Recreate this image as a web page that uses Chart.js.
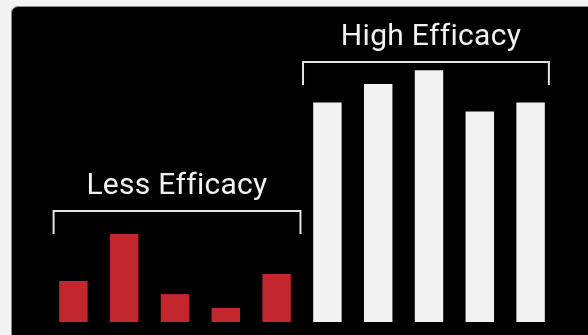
<!DOCTYPE html>
<html>
<head>
<meta charset="utf-8">
<script src="https://cdn.jsdelivr.net/npm/chart.js@4"></script>
<style>
    html, body { margin: 0; padding: 0; background: #f2f2f2; overflow: hidden; }
    #panel {
        position: absolute; left: 11px; top: 6px; width: 640px; height: 360px;
        background: #000; border: 1px solid #8c8c8c; border-radius: 7px; box-sizing: border-box;
    }
    #wrap { position: absolute; left: 0; top: 0; width: 588px; height: 335px; }
</style>
</head>
<body>
<div id="panel"></div>
<div id="wrap"><canvas id="efficacyChart"></canvas></div>
<script>
// Data
const categories = ['L1', 'L2', 'L3', 'L4', 'L5', 'H1', 'H2', 'H3', 'H4', 'H5'];
const values = [13.7, 29.3, 9.3, 4.7, 16, 73.2, 79.3, 83.9, 70.2, 73.2];
const groupNames = ['Less Efficacy', 'High Efficacy'];
const groupStart = [0, 5];
const groupEnd = [4, 9];
const groupLevel = [37, 86.7]; // bracket height in value units

const RED = '#c1272d';
const WHITE = '#f2f2f2';

// Brackets + group labels
const bracketPlugin = {
    id: 'brackets',
    afterDatasetsDraw(chart) {
        const { ctx, scales: { x, y } } = chart;
        const half = x.getPixelForValue(1) - x.getPixelForValue(0);
        const pads = [[-0.39, 0.47], [-0.48, 0.36]];
        ctx.save();
        for (let i = 0; i < groupNames.length; i++) {
            const left = x.getPixelForValue(groupStart[i]) + pads[i][0] * half;
            const right = x.getPixelForValue(groupEnd[i]) + pads[i][1] * half;
            const top = Math.round(y.getPixelForValue(groupLevel[i]));
            ctx.strokeStyle = '#e4e4e4';
            ctx.lineWidth = 2;
            ctx.beginPath();
            ctx.moveTo(left, top + 23);
            ctx.lineTo(left, top);
            ctx.lineTo(right, top);
            ctx.lineTo(right, top + 23);
            ctx.stroke();

            const cx = (x.getPixelForValue(groupStart[i]) + x.getPixelForValue(groupEnd[i])) / 2 + 2;
            ctx.fillStyle = WHITE;
            ctx.font = '30px Roboto';
            ctx.letterSpacing = '0.3px';
            ctx.textAlign = 'center';
            ctx.textBaseline = 'alphabetic';
            ctx.fillText(groupNames[i], cx, top - 17);
        }
        ctx.restore();
    }
};

const ctx = document.getElementById('efficacyChart').getContext('2d');
new Chart(ctx, {
    type: 'bar',
    data: {
        labels: categories,
        datasets: [{
            data: values,
            backgroundColor: values.map((v, i) => i < 5 ? RED : WHITE),
            borderWidth: 0,
            barPercentage: 0.56,
            categoryPercentage: 1
        }]
    },
    options: {
        responsive: true,
        maintainAspectRatio: false,
        animation: false,
        layout: { padding: { left: 48, right: 32, top: 22, bottom: 13 } },
        plugins: {
            legend: { display: false },
            tooltip: { enabled: false }
        },
        scales: {
            x: { display: false },
            y: { display: false, min: 0, max: 100 }
        }
    },
    plugins: [bracketPlugin]
});
</script>
</body>
</html>
